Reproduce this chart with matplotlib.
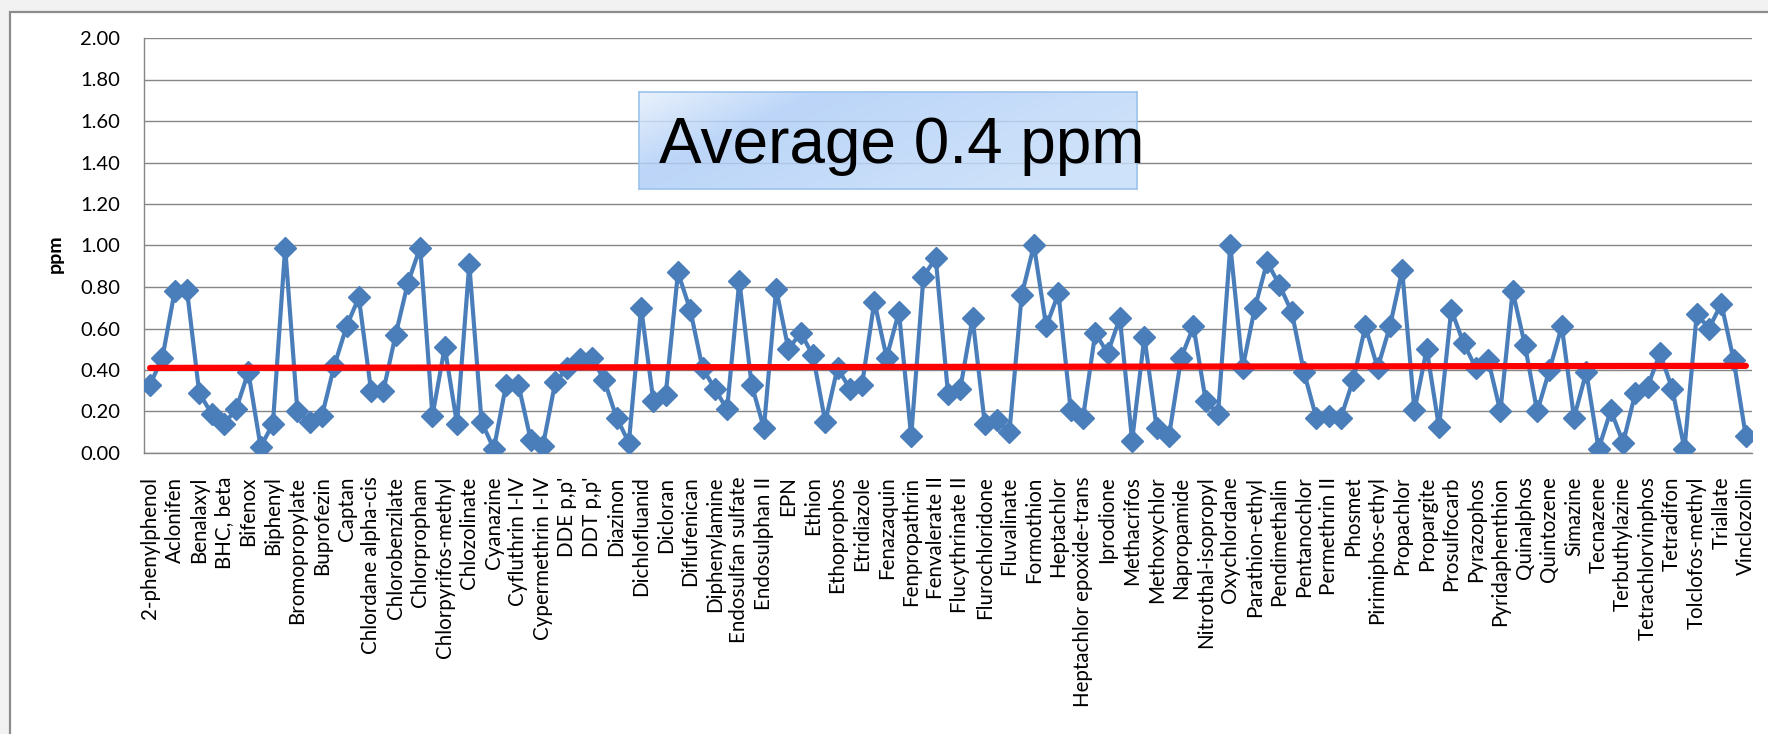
import numpy as np
import matplotlib
matplotlib.use("Agg")
import matplotlib.pyplot as plt
from matplotlib.patches import Rectangle

# residue level per compound, ppm (131 compounds, every second one named on the axis)
values = [
    0.33, 0.46, 0.78, 0.785, 0.29, 0.19, 0.14, 0.21, 0.39, 0.03,
    0.14, 0.99, 0.20, 0.15, 0.18, 0.42, 0.61, 0.75, 0.30, 0.30,
    0.57, 0.82, 0.99, 0.18, 0.51, 0.14, 0.91, 0.15, 0.02, 0.33,
    0.33, 0.065, 0.035, 0.34, 0.41, 0.455, 0.46, 0.35, 0.17, 0.05,
    0.70, 0.25, 0.28, 0.87, 0.69, 0.41, 0.31, 0.21, 0.83, 0.33,
    0.12, 0.79, 0.50, 0.58, 0.47, 0.15, 0.41, 0.31, 0.33, 0.73,
    0.46, 0.68, 0.08, 0.85, 0.94, 0.285, 0.31, 0.65, 0.14, 0.16,
    0.10, 0.76, 1.00, 0.61, 0.77, 0.205, 0.17, 0.58, 0.48, 0.65,
    0.06, 0.56, 0.12, 0.08, 0.46, 0.61, 0.25, 0.19, 1.00, 0.41,
    0.70, 0.92, 0.81, 0.68, 0.39, 0.17, 0.18, 0.17, 0.35, 0.61,
    0.41, 0.61, 0.88, 0.205, 0.50, 0.124, 0.69, 0.53, 0.41, 0.45,
    0.20, 0.78, 0.52, 0.20, 0.40, 0.61, 0.17, 0.39, 0.02, 0.205,
    0.05, 0.29, 0.32, 0.48, 0.31, 0.02, 0.67, 0.60, 0.72, 0.45,
    0.08,
]

tick_names = [
    "2-phenylphenol", "Aclonifen", "Benalaxyl", "BHC, beta", "Bifenox",
    "Biphenyl", "Bromopropylate", "Buprofezin", "Captan", "Chlordane alpha-cis",
    "Chlorobenzilate", "Chlorpropham", "Chlorpyrifos-methyl", "Chlozolinate",
    "Cyanazine", "Cyfluthrin I-IV", "Cypermethrin I-IV", "DDE p,p'", "DDT p,p'",
    "Diazinon", "Dichlofluanid", "Dicloran", "Diflufenican", "Diphenylamine",
    "Endosulfan sulfate", "Endosulphan II", "EPN", "Ethion", "Ethoprophos",
    "Etridiazole", "Fenazaquin", "Fenpropathrin", "Fenvalerate II",
    "Flucythrinate II", "Flurochloridone", "Fluvalinate", "Formothion",
    "Heptachlor", "Heptachlor epoxide-trans", "Iprodione", "Methacrifos",
    "Methoxychlor", "Napropamide", "Nitrothal-isopropyl", "Oxychlordane",
    "Parathion-ethyl", "Pendimethalin", "Pentanochlor", "Permethrin II",
    "Phosmet", "Pirimiphos-ethyl", "Propachlor", "Propargite", "Prosulfocarb",
    "Pyrazophos", "Pyridaphenthion", "Quinalphos", "Quintozene", "Simazine",
    "Tecnazene", "Terbuthylazine", "Tetrachlorvinphos", "Tetradifon",
    "Tolclofos-methyl", "Triallate", "Vinclozolin",
]

# average line end points (first and last compound)
avg_x = [0, 130]
avg_y = [0.41, 0.42]

y_ticks = [0.0, 0.2, 0.4, 0.6, 0.8, 1.0, 1.2, 1.4, 1.6, 1.8, 2.0]

plt.rcParams['font.family'] = ['Lato', 'DejaVu Sans']

fig = plt.figure(figsize=(17.68, 7.34), dpi=100, facecolor='#f2f2f2')
# chart frame
fig.patches.append(Rectangle((10 / 1768, -0.1), 1.2, 1.1 - 12 / 734,
                             transform=fig.transFigure, facecolor='white',
                             edgecolor='#8c8c8c', linewidth=1.6, zorder=-10))

ax = fig.add_axes([144 / 1768, 1 - 453 / 734, 1608 / 1768, 415 / 734])
ax.set_facecolor('none')

x = np.arange(len(values))
ax.plot(x, values, color='#4a7ebb', linewidth=3.0, marker='D', markersize=11.5,
        markerfacecolor='#4a7ebb', markeredgecolor='#4a7ebb', zorder=3)
ax.plot(avg_x, avg_y, color='#ff0000', linewidth=4.5, solid_capstyle='round', zorder=4)

ax.set_xlim(-0.5, len(values) - 0.5)
ax.set_ylim(0, 2.0)
ax.set_yticks(y_ticks)
ax.set_yticklabels(["%.2f" % v for v in y_ticks])
ax.set_xticks(np.arange(0, len(values), 2))
ax.set_xticklabels(tick_names, rotation=90, ha='center', va='top')
ax.tick_params(axis='both', length=0, colors='black')
ax.tick_params(axis='x', labelsize=14.8, pad=17)
ax.tick_params(axis='y', labelsize=14.5, pad=17)
ax.grid(axis='y', color='#868686', linewidth=1.0)
ax.set_axisbelow(True)
for s in ['top', 'right']:
    ax.spines[s].set_visible(False)
for s in ['left', 'bottom']:
    ax.spines[s].set_color('#868686')
    ax.spines[s].set_linewidth(1.0)

fig.text(55 / 1768, 1 - 254 / 734, "ppm", rotation=90, fontsize=14,
         fontweight='bold', ha='center', va='center')

# annotation box with a soft blue gradient
bx = fig.add_axes([639 / 1768, 1 - 189 / 734, 498 / 1768, 97 / 734])
gx, gy = np.meshgrid(np.linspace(0, 1, 300), np.linspace(0, 1, 60))
t = np.clip(gx * 0.8 + gy * 0.35, 0, 1)
stops = [0.0, 0.3, 1.0]
c0 = np.array([0.90, 0.94, 0.99])
c1 = np.array([0.69, 0.81, 0.97])
c2 = np.array([0.78, 0.87, 0.98])
grad = np.zeros(t.shape + (3,))
for k in range(3):
    grad[..., k] = np.interp(t, stops, [c0[k], c1[k], c2[k]])
bx.imshow(grad, aspect='auto', extent=(0, 1, 0, 1), alpha=0.85)
bx.set_xlim(0, 1)
bx.set_ylim(0, 1)
bx.set_xticks([])
bx.set_yticks([])
bx.patch.set_alpha(0)
for s in bx.spines.values():
    s.set_color('#9cc2ec')
    s.set_linewidth(1.2)
bx.text(20 / 498, 26 / 97, "Average 0.4 ppm", family='Liberation Sans', fontsize=46,
        ha='left', va='baseline', color='black')

fig.savefig("out.png", dpi=100, facecolor=fig.get_facecolor())
